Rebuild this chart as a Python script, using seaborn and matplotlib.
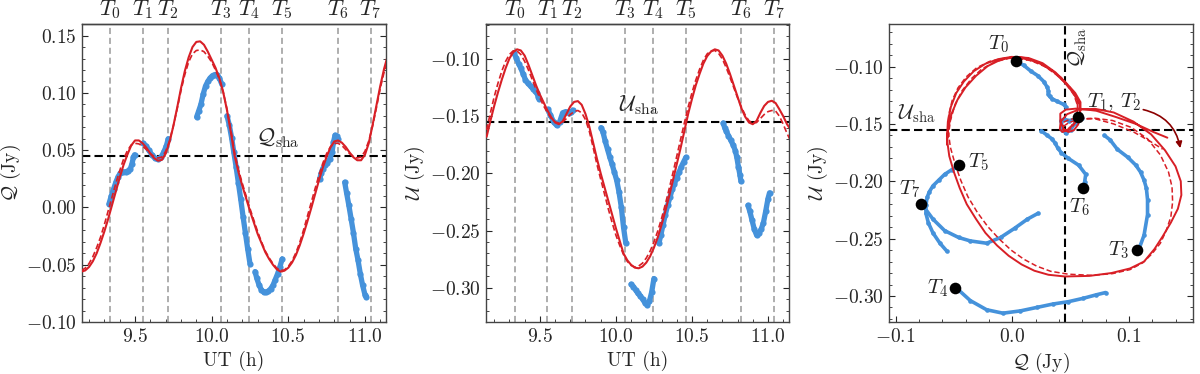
import numpy as np
import pandas as pd
import seaborn as sns
import matplotlib.pyplot as plt
from matplotlib.ticker import MultipleLocator

# ---- model curves, UT grid in hours ----
model_t = [9.150, 9.175, 9.200, 9.225, 9.250, 9.275, 9.300, 9.325, 9.350, 9.375,
           9.400, 9.425, 9.450, 9.475, 9.500, 9.525, 9.550, 9.575, 9.600, 9.625,
           9.650, 9.675, 9.700, 9.725, 9.750, 9.775, 9.800, 9.825, 9.850, 9.875,
           9.900, 9.925, 9.950, 9.975, 10.000, 10.025, 10.050, 10.075, 10.100, 10.125,
           10.150, 10.175, 10.200, 10.225, 10.250, 10.275, 10.300, 10.325, 10.350, 10.375,
           10.400, 10.425, 10.450, 10.475, 10.500, 10.525, 10.550, 10.575, 10.600, 10.625,
           10.650, 10.675, 10.700, 10.725, 10.750, 10.775, 10.800, 10.825, 10.850, 10.875,
           10.900, 10.925, 10.950, 10.975, 11.000, 11.025, 11.050, 11.075, 11.100, 11.125,
           11.150]

q_solid = [-0.0560, -0.0550, -0.0520, -0.0470, -0.0400, -0.0310, -0.0210, -0.0100, 0.0020, 0.0140,
           0.0260, 0.0370, 0.0460, 0.0540, 0.0585, 0.0585, 0.0560, 0.0520, 0.0470, 0.0430,
           0.0408, 0.0415, 0.0470, 0.0570, 0.0710, 0.0870, 0.1040, 0.1190, 0.1310, 0.1400,
           0.1445, 0.1450, 0.1420, 0.1360, 0.1290, 0.1220, 0.1130, 0.1010, 0.0850, 0.0660,
           0.0450, 0.0310, 0.0190, 0.0080, -0.0030, -0.0130, -0.0230, -0.0310, -0.0390, -0.0450,
           -0.0500, -0.0540, -0.0560, -0.0552, -0.0526, -0.0480, -0.0415, -0.0330, -0.0230, -0.0120,
           -0.0005, 0.0116, 0.0236, 0.0348, 0.0442, 0.0524, 0.0576, 0.0585, 0.0565, 0.0528,
           0.0480, 0.0438, 0.0412, 0.0412, 0.0460, 0.0560, 0.0720, 0.0890, 0.1060, 0.1210,
           0.1330]

q_dashed = [-0.0550, -0.0530, -0.0490, -0.0430, -0.0350, -0.0260, -0.0150, -0.0030, 0.0090, 0.0210,
            0.0320, 0.0420, 0.0495, 0.0545, 0.0560, 0.0555, 0.0535, 0.0505, 0.0470, 0.0445,
            0.0432, 0.0440, 0.0490, 0.0580, 0.0710, 0.0860, 0.1020, 0.1160, 0.1270, 0.1340,
            0.1370, 0.1375, 0.1360, 0.1320, 0.1270, 0.1200, 0.1120, 0.1010, 0.0860, 0.0680,
            0.0480, 0.0330, 0.0210, 0.0100, -0.0010, -0.0110, -0.0210, -0.0300, -0.0380, -0.0440,
            -0.0490, -0.0530, -0.0550, -0.0545, -0.0515, -0.0465, -0.0395, -0.0305, -0.0195, -0.0075,
            0.0045, 0.0165, 0.0280, 0.0385, 0.0470, 0.0530, 0.0560, 0.0560, 0.0540, 0.0505,
            0.0470, 0.0445, 0.0432, 0.0440, 0.0490, 0.0580, 0.0710, 0.0870, 0.1040, 0.1180,
            0.1290]

u_solid = [-0.1680, -0.1540, -0.1410, -0.1290, -0.1180, -0.1080, -0.0995, -0.0940, -0.0915, -0.0925,
           -0.0970, -0.1050, -0.1140, -0.1230, -0.1310, -0.1380, -0.1450, -0.1510, -0.1555, -0.1570,
           -0.1545, -0.1480, -0.1415, -0.1375, -0.1368, -0.1400, -0.1480, -0.1590, -0.1730, -0.1870,
           -0.2000, -0.2120, -0.2240, -0.2360, -0.2480, -0.2590, -0.2700, -0.2760, -0.2800, -0.2825,
           -0.2830, -0.2815, -0.2780, -0.2725, -0.2650, -0.2560, -0.2450, -0.2330, -0.2200, -0.2060,
           -0.1920, -0.1780, -0.1630, -0.1480, -0.1350, -0.1230, -0.1130, -0.1040, -0.0975, -0.0935,
           -0.0915, -0.0925, -0.0970, -0.1040, -0.1130, -0.1230, -0.1330, -0.1430, -0.1505, -0.1555,
           -0.1570, -0.1540, -0.1470, -0.1410, -0.1375, -0.1365, -0.1385, -0.1440, -0.1500, -0.1570,
           -0.1620]

u_dashed = [-0.1620, -0.1470, -0.1330, -0.1210, -0.1105, -0.1020, -0.0960, -0.0928, -0.0930, -0.0960,
            -0.1020, -0.1095, -0.1180, -0.1265, -0.1340, -0.1410, -0.1470, -0.1520, -0.1550, -0.1560,
            -0.1550, -0.1520, -0.1485, -0.1460, -0.1450, -0.1470, -0.1530, -0.1630, -0.1770, -0.1920,
            -0.2050, -0.2180, -0.2310, -0.2430, -0.2540, -0.2630, -0.2710, -0.2770, -0.2805, -0.2820,
            -0.2810, -0.2785, -0.2740, -0.2680, -0.2600, -0.2505, -0.2395, -0.2270, -0.2135, -0.1995,
            -0.1850, -0.1705, -0.1560, -0.1420, -0.1295, -0.1185, -0.1090, -0.1010, -0.0955, -0.0928,
            -0.0925, -0.0950, -0.1000, -0.1075, -0.1160, -0.1250, -0.1340, -0.1420, -0.1490, -0.1540,
            -0.1560, -0.1555, -0.1520, -0.1485, -0.1460, -0.1450, -0.1455, -0.1500, -0.1570, -0.1650,
            -0.1720]

# ---- observed polarization (blue points), per scan segment ----
seg_a_t = [9.330, 9.345, 9.360, 9.375, 9.390, 9.405, 9.420, 9.440, 9.455, 9.470, 9.480, 9.490, 9.497]
seg_a_q = [0.003, 0.010, 0.016, 0.022, 0.027, 0.030, 0.031, 0.031, 0.032, 0.034, 0.038, 0.044, 0.046]
seg_a_u = [-0.095, -0.099, -0.104, -0.108, -0.113, -0.118, -0.121, -0.124, -0.126, -0.128, -0.130, -0.133, -0.135]

seg_b_t = [9.552, 9.570, 9.590, 9.610, 9.630, 9.650, 9.670, 9.690, 9.705, 9.717]
seg_b_q = [0.056, 0.054, 0.050, 0.046, 0.043, 0.042, 0.044, 0.049, 0.054, 0.060]
seg_b_u = [-0.144, -0.149, -0.155, -0.158, -0.155, -0.147, -0.146, -0.147, -0.146, -0.145]

seg_c_t = [9.902, 9.915, 9.930, 9.945, 9.960, 9.975, 9.990, 10.005, 10.020, 10.035, 10.050, 10.065]
seg_c_q = [0.079, 0.084, 0.090, 0.099, 0.106, 0.110, 0.113, 0.115, 0.116, 0.116, 0.113, 0.108]
seg_c_u = [-0.160, -0.164, -0.172, -0.179, -0.186, -0.192, -0.199, -0.206, -0.216, -0.229, -0.247, -0.261]

seg_d_t = [10.100, 10.115, 10.130, 10.145, 10.160, 10.175, 10.190, 10.205, 10.220, 10.235, 10.250]
seg_d_q = [0.080, 0.072, 0.061, 0.048, 0.035, 0.021, 0.007, -0.008, -0.022, -0.036, -0.049]
seg_d_u = [-0.297, -0.299, -0.302, -0.305, -0.307, -0.310, -0.313, -0.315, -0.312, -0.304, -0.292]

seg_e_t = [10.283, 10.295, 10.310, 10.325, 10.340, 10.355, 10.370, 10.385, 10.400, 10.415, 10.430, 10.445, 10.460]
seg_e_q = [-0.056, -0.062, -0.068, -0.072, -0.074, -0.074, -0.073, -0.071, -0.068, -0.063, -0.058, -0.052, -0.045]
seg_e_u = [-0.261, -0.254, -0.245, -0.236, -0.228, -0.221, -0.214, -0.209, -0.204, -0.199, -0.194, -0.190, -0.186]

seg_f_t = [10.705, 10.715, 10.725, 10.740, 10.755, 10.770, 10.785, 10.795, 10.805, 10.815, 10.822]
seg_f_q = [0.025, 0.030, 0.034, 0.037, 0.039, 0.042, 0.048, 0.057, 0.063, 0.062, 0.060]
seg_f_u = [-0.156, -0.160, -0.163, -0.167, -0.171, -0.175, -0.180, -0.186, -0.194, -0.201, -0.207]

seg_g_t = [10.868, 10.880, 10.895, 10.910, 10.925, 10.940, 10.955, 10.970, 10.985, 11.000, 11.010]
seg_g_q = [0.022, 0.013, 0.002, -0.010, -0.022, -0.036, -0.046, -0.058, -0.068, -0.076, -0.078]
seg_g_u = [-0.228, -0.233, -0.241, -0.249, -0.254, -0.252, -0.249, -0.243, -0.233, -0.222, -0.217]

# reference times T0..T7 and the data at those times (Q-U plane)
t_marks = [9.335, 9.550, 9.713, 10.062, 10.243, 10.458, 10.822, 11.038]
t_labels = ['$T_0$', '$T_1$', '$T_2$', '$T_3$', '$T_4$', '$T_5$', '$T_6$', '$T_7$']
dot_q = [0.003, 0.056, 0.107, -0.049, -0.046, 0.061, -0.078]
dot_u = [-0.095, -0.144, -0.260, -0.293, -0.186, -0.206, -0.220]
dot_labels = ['$T_0$', '$T_1$, $T_2$', '$T_3$', '$T_4$', '$T_5$', '$T_6$', '$T_7$']

q_sha = 0.045
u_sha = -0.155

segments = [(seg_a_t, seg_a_q, seg_a_u), (seg_b_t, seg_b_q, seg_b_u), (seg_c_t, seg_c_q, seg_c_u),
            (seg_d_t, seg_d_q, seg_d_u), (seg_e_t, seg_e_q, seg_e_u), (seg_f_t, seg_f_q, seg_f_u),
            (seg_g_t, seg_g_q, seg_g_u)]
obs = pd.concat([pd.DataFrame({'seg': i, 't': t, 'q': q, 'u': u})
                 for i, (t, q, u) in enumerate(segments)], ignore_index=True)

RED = '#d81f26'
BLUE = '#4592db'
GREY = '#999999'

sns.set_style('ticks')
plt.rcParams.update({
    'font.family': 'serif',
    'font.serif': ['cmr10', 'DejaVu Serif'],
    'mathtext.fontset': 'cm',
    'axes.formatter.use_mathtext': True,
    'font.size': 14,
    'axes.edgecolor': '#444444',
    'axes.linewidth': 1.0,
})

fig = plt.figure(figsize=(12, 3.74), dpi=100)
ax1 = fig.add_axes([0.0683, 0.139, 0.2533, 0.797])
ax2 = fig.add_axes([0.405, 0.139, 0.2525, 0.797])
ax3 = fig.add_axes([0.741, 0.139, 0.2528, 0.797])


def time_panel(ax, col, solid, dashed, sha):
    for tt in t_marks:
        ax.axvline(tt, color=GREY, ls=(0, (4, 2.5)), lw=1.1, zorder=1)
    ax.axhline(sha, color='black', ls=(0, (4, 2)), lw=1.5, zorder=2)
    sns.lineplot(data=obs, x='t', y=col, units='seg', estimator=None, sort=False,
                 color=BLUE, lw=3.8, ax=ax, zorder=3)
    sns.scatterplot(data=obs, x='t', y=col, color=BLUE, s=20, linewidth=0, ax=ax, zorder=3)
    sns.lineplot(x=model_t, y=dashed, color=RED, lw=1.2, ls=(0, (3.5, 1.8)), ax=ax, zorder=4)
    sns.lineplot(x=model_t, y=solid, color=RED, lw=1.5, ax=ax, zorder=5)
    ax.set_xlabel('UT (h)', fontsize=14)
    ax.yaxis.set_label_coords(-0.195, 0.5)
    ax.xaxis.set_major_locator(MultipleLocator(0.5))
    ax.xaxis.set_minor_locator(MultipleLocator(0.1))
    ax.yaxis.set_minor_locator(MultipleLocator(0.01))
    ax.tick_params(which='both', direction='in', top=False, right=True, labelsize=14)
    ax.tick_params(which='major', length=4.5, pad=4)
    ax.tick_params(which='minor', length=2.5)
    sec = ax.secondary_xaxis('top')
    sec.set_xticks(t_marks, labels=t_labels)
    sec.tick_params(length=0, pad=2, labelsize=16)


time_panel(ax1, 'q', q_solid, q_dashed, q_sha)
ax1.set_xlim(9.154, 11.137)
ax1.set_ylim(-0.10, 0.1602)
ax1.set_ylabel(r'$\mathcal{Q}$ (Jy)', fontsize=14)
ax1.text(10.29, 0.0505, r'$\mathcal{Q}_{\rm sha}$', fontsize=16, ha='left', va='bottom')

time_panel(ax2, 'u', u_solid, u_dashed, u_sha)
ax2.set_xlim(9.146, 11.138)
ax2.set_ylim(-0.330, -0.0693)
ax2.set_ylabel(r'$\mathcal{U}$ (Jy)', fontsize=14)
ax2.text(10.02, -0.151, r'$\mathcal{U}_{\rm sha}$', fontsize=16, ha='left', va='bottom')

# ---- Q-U plane ----
ax3.axvline(q_sha, color='black', ls=(0, (4, 2)), lw=1.5, zorder=2)
ax3.axhline(u_sha, color='black', ls=(0, (4, 2)), lw=1.5, zorder=2)
sns.lineplot(data=obs, x='q', y='u', units='seg', estimator=None, sort=False,
             color=BLUE, lw=2.6, ax=ax3, zorder=3)
sns.scatterplot(data=obs, x='q', y='u', color=BLUE, s=11, linewidth=0, ax=ax3, zorder=3)
sns.lineplot(x=q_dashed, y=u_dashed, sort=False, estimator=None, color=RED, lw=1.1,
             ls=(0, (3.5, 1.8)), ax=ax3, zorder=4)
sns.lineplot(x=q_solid, y=u_solid, sort=False, estimator=None, color=RED, lw=1.4, ax=ax3, zorder=5)
sns.scatterplot(x=dot_q, y=dot_u, color='black', s=70, linewidth=0, ax=ax3, zorder=6)

offsets = [((-5, 4), 'right', 'bottom'), ((7, 3), 'left', 'bottom'), ((-6, 0), 'right', 'center'),
           ((-5, 0), 'right', 'center'), ((7, 2), 'left', 'center'), ((-3, -6), 'center', 'top'),
           ((-1, 3), 'right', 'bottom')]
for qv, uv, lab, (off, ha, va) in zip(dot_q, dot_u, dot_labels, offsets):
    ax3.annotate(lab, (qv, uv), xytext=off, textcoords='offset points', ha=ha, va=va, fontsize=15)

ax3.annotate('', xy=(0.1445, -0.1735), xytext=(0.110, -0.137),
             arrowprops=dict(arrowstyle='-|>', color='#8b0000', lw=1.2,
                             connectionstyle='arc3,rad=-0.35', mutation_scale=9))
ax3.text(-0.098, -0.1505, r'$\mathcal{U}_{\rm sha}$', fontsize=15, ha='left', va='bottom')
ax3.text(0.0465, -0.0655, r'$\mathcal{Q}_{\rm sha}$', fontsize=15, ha='left', va='top', rotation=90)

ax3.set_xlim(-0.1055, 0.1546)
ax3.set_ylim(-0.3227, -0.0628)
ax3.set_xlabel(r'$\mathcal{Q}$ (Jy)', fontsize=14)
ax3.set_ylabel(r'$\mathcal{U}$ (Jy)', fontsize=14)
ax3.yaxis.set_label_coords(-0.195, 0.5)
ax3.xaxis.set_major_locator(MultipleLocator(0.1))
ax3.xaxis.set_minor_locator(MultipleLocator(0.02))
ax3.yaxis.set_major_locator(MultipleLocator(0.05))
ax3.yaxis.set_minor_locator(MultipleLocator(0.01))
ax3.tick_params(which='both', direction='in', top=False, right=True, labelsize=14)
ax3.tick_params(which='major', length=4.5, pad=4)
ax3.tick_params(which='minor', length=2.5)

fig.savefig('out.png', dpi=100)
